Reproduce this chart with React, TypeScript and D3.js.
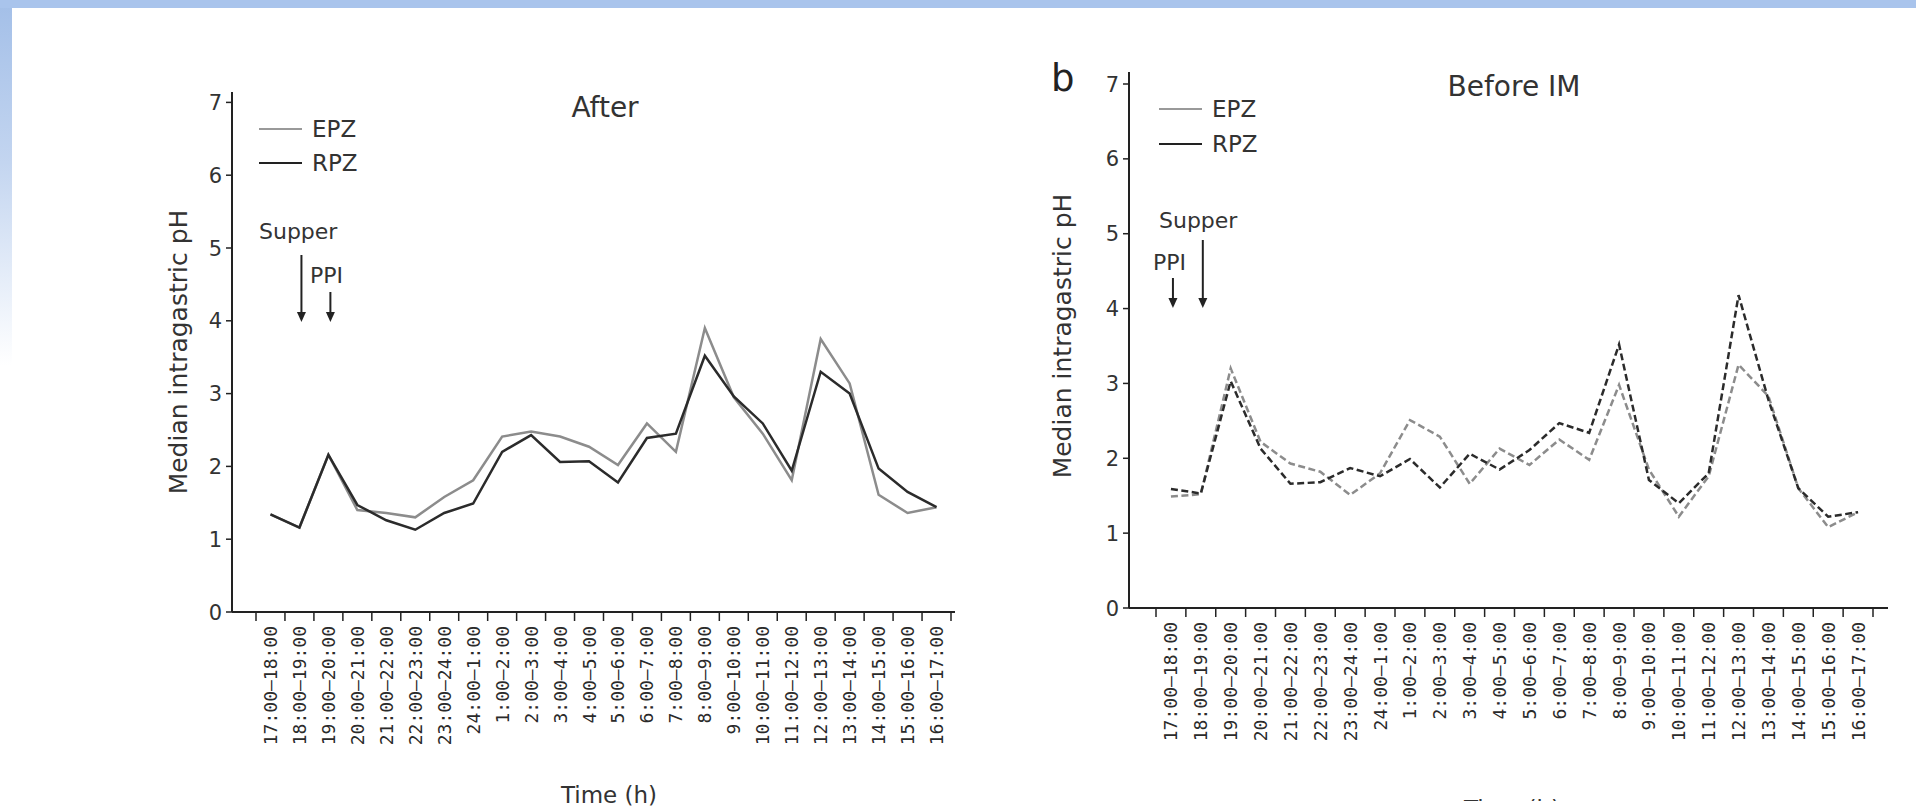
import React from "react";
import * as d3 from "d3";

const categories = [
  "17:00–18:00", "18:00–19:00", "19:00–20:00", "20:00–21:00", "21:00–22:00", "22:00–23:00",
  "23:00–24:00", "24:00–1:00", "1:00–2:00", "2:00–3:00", "3:00–4:00", "4:00–5:00",
  "5:00–6:00", "6:00–7:00", "7:00–8:00", "8:00–9:00", "9:00–10:00", "10:00–11:00",
  "11:00–12:00", "12:00–13:00", "13:00–14:00", "14:00–15:00", "15:00–16:00", "16:00–17:00",
];

const yTicks = [0, 1, 2, 3, 4, 5, 6, 7];

const afterEPZ = [1.34, 1.16, 2.16, 1.40, 1.36, 1.30, 1.58, 1.81, 2.41, 2.48, 2.41, 2.27, 2.02, 2.59, 2.20, 3.90, 2.95, 2.45, 1.81, 3.75, 3.14, 1.61, 1.36, 1.44];
const afterRPZ = [1.34, 1.16, 2.16, 1.47, 1.26, 1.13, 1.36, 1.49, 2.20, 2.43, 2.06, 2.07, 1.78, 2.39, 2.45, 3.52, 2.96, 2.59, 1.94, 3.30, 3.00, 1.97, 1.65, 1.44];

const beforeEPZ = [1.49, 1.52, 3.20, 2.22, 1.93, 1.82, 1.51, 1.80, 2.51, 2.29, 1.66, 2.13, 1.91, 2.25, 1.98, 2.98, 1.85, 1.22, 1.76, 3.25, 2.83, 1.60, 1.08, 1.28];
const beforeRPZ = [1.59, 1.53, 3.03, 2.13, 1.66, 1.68, 1.87, 1.76, 1.99, 1.61, 2.06, 1.85, 2.11, 2.47, 2.34, 3.52, 1.71, 1.40, 1.80, 4.18, 2.78, 1.60, 1.22, 1.28];

const SANS = "'DejaVu Sans', Verdana, sans-serif";
const MONO = "'DejaVu Sans Mono', monospace";
const TXT = "#333";

type PanelProps = {
  axisX: number; axisTop: number; y0: number; y7: number;
  bandStart: number; bandEnd: number; axisEnd: number;
  epz: number[]; rpz: number[]; dashed: boolean;
  title: string; titleX: number; titleY: number;
  legX: number; legY1: number; legY2: number;
  supperIdx: number; ppiIdx: number;
  supperTextX: number; supperTextY: number; supperArrowTop: number;
  ppiTextX: number; ppiTextY: number; ppiArrowTop: number; arrowTip: number;
  ylabelX: number; ylabelY: number; timeX: number; timeY: number;
};

function Arrow({ x, y1, y2 }: { x: number; y1: number; y2: number }) {
  return (
    <g>
      <line x1={x} x2={x} y1={y1} y2={y2 - 8} stroke="#222" strokeWidth={2} />
      <path d={`M${x - 4.5},${y2 - 10} L${x + 4.5},${y2 - 10} L${x},${y2} Z`} fill="#222" />
    </g>
  );
}

function Panel(p: PanelProps) {
  const x = d3.scaleBand<string>().domain(categories).range([p.bandStart, p.bandEnd]).paddingInner(0).paddingOuter(0);
  const y = d3.scaleLinear().domain([0, 7]).range([p.y0, p.y7]);
  const bw = x.bandwidth();
  const cx = (i: number) => (x(categories[i]) as number) + bw / 2;
  const line = d3.line<number>().x((_, i) => cx(i)).y((v) => y(v));
  const boundaries = categories.map((c) => x(c) as number).concat([p.bandEnd]);
  const dash = p.dashed ? "7,3.5" : undefined;
  return (
    <g>
      {/* y axis */}
      <line x1={p.axisX} x2={p.axisX} y1={p.axisTop} y2={p.y0} stroke="#222" strokeWidth={2} />
      {yTicks.map((t) => (
        <g key={t}>
          <line x1={p.axisX - 6} x2={p.axisX} y1={y(t)} y2={y(t)} stroke="#222" strokeWidth={1.5} />
          <text x={p.axisX - 10} y={y(t)} dy="0.36em" textAnchor="end" fontFamily={SANS} fontSize={21} fill={TXT}>{t}</text>
        </g>
      ))}
      {/* x axis */}
      <line x1={p.axisX} x2={p.axisEnd} y1={p.y0} y2={p.y0} stroke="#222" strokeWidth={2} />
      {boundaries.map((b, i) => (
        <line key={i} x1={b} x2={b} y1={p.y0} y2={p.y0 + 9} stroke="#222" strokeWidth={1.5} />
      ))}
      {categories.map((c, i) => (
        <text key={c} transform={`translate(${cx(i)},${p.y0 + 14}) rotate(-90)`} textAnchor="end" dy="0.36em"
          fontFamily={MONO} fontSize={18} fill="#2a2a2a">{c}</text>
      ))}
      {/* lines */}
      <path d={line(p.epz) || ""} fill="none" stroke="#8c8c8c" strokeWidth={2.5} strokeDasharray={dash} strokeLinejoin="miter" />
      <path d={line(p.rpz) || ""} fill="none" stroke="#2b2b2b" strokeWidth={2.5} strokeDasharray={dash} strokeLinejoin="miter" />
      {/* title */}
      <text x={p.titleX} y={p.titleY} textAnchor="middle" fontFamily={SANS} fontSize={28} fill={TXT}>{p.title}</text>
      {/* legend */}
      <line x1={p.legX} x2={p.legX + 43} y1={p.legY1} y2={p.legY1} stroke="#777" strokeWidth={1.3} />
      <text x={p.legX + 53} y={p.legY1} dy="0.36em" fontFamily={SANS} fontSize={23} fill={TXT}>EPZ</text>
      <line x1={p.legX} x2={p.legX + 43} y1={p.legY2} y2={p.legY2} stroke="#222" strokeWidth={2} />
      <text x={p.legX + 53} y={p.legY2} dy="0.36em" fontFamily={SANS} fontSize={23} fill={TXT}>RPZ</text>
      {/* annotations */}
      <text x={p.supperTextX} y={p.supperTextY} fontFamily={SANS} fontSize={22} fill={TXT}>Supper</text>
      <text x={p.ppiTextX} y={p.ppiTextY} fontFamily={SANS} fontSize={22} fill={TXT}>PPI</text>
      <Arrow x={cx(p.supperIdx) + 2} y1={p.supperArrowTop} y2={p.arrowTip} />
      <Arrow x={cx(p.ppiIdx) + 2} y1={p.ppiArrowTop} y2={p.arrowTip} />
      {/* axis labels */}
      <text transform={`translate(${p.ylabelX},${p.ylabelY}) rotate(-90)`} textAnchor="middle" dy="0.36em"
        fontFamily={SANS} fontSize={25} fill={TXT}>Median intragastric pH</text>
      <text x={p.timeX} y={p.timeY} textAnchor="middle" fontFamily={SANS} fontSize={23} fill={TXT}>Time (h)</text>
    </g>
  );
}

export default function App() {
  return (
    <svg width={1916} height={812} style={{ position: "absolute", left: 0, top: 0, background: "#fff" }}>
      <defs>
        <linearGradient id="leftBand" x1="0" y1="0" x2="0" y2="1">
          <stop offset="0" stopColor="#a3bfe8" />
          <stop offset="0.2" stopColor="#c3d5f0" />
          <stop offset="0.45" stopColor="#ffffff" />
        </linearGradient>
      </defs>
      <rect x={0} y={0} width={1916} height={812} fill="#fff" />
      <rect x={0} y={0} width={12} height={812} fill="url(#leftBand)" />
      <rect x={0} y={0} width={1916} height={8} fill="#a9c4ec" />
      <Panel
        axisX={232} axisTop={92} y0={612} y7={102.4}
        bandStart={256} bandEnd={951} axisEnd={955}
        epz={afterEPZ} rpz={afterRPZ} dashed={false}
        title="After" titleX={605} titleY={117}
        legX={259} legY1={129} legY2={163}
        supperIdx={1} ppiIdx={2}
        supperTextX={259} supperTextY={239} supperArrowTop={255}
        ppiTextX={310} ppiTextY={283} ppiArrowTop={292} arrowTip={322}
        ylabelX={178} ylabelY={352} timeX={609} timeY={803}
      />
      <Panel
        axisX={1129} axisTop={72} y0={608} y7={84}
        bandStart={1156} bandEnd={1873} axisEnd={1888}
        epz={beforeEPZ} rpz={beforeRPZ} dashed={true}
        title="Before IM" titleX={1514} titleY={96}
        legX={1159} legY1={109} legY2={144}
        supperIdx={1} ppiIdx={0}
        supperTextX={1159} supperTextY={228} supperArrowTop={240}
        ppiTextX={1153} ppiTextY={270} ppiArrowTop={278} arrowTip={308}
        ylabelX={1062} ylabelY={336} timeX={1512} timeY={817}
      />
      {/* the right panel of the source figure is cropped just under its axis title */}
      <rect x={1100} y={801} width={816} height={11} fill="#fff" />
      <text x={1051} y={91} fontFamily={SANS} fontSize={37} fill="#222">b</text>
    </svg>
  );
}
